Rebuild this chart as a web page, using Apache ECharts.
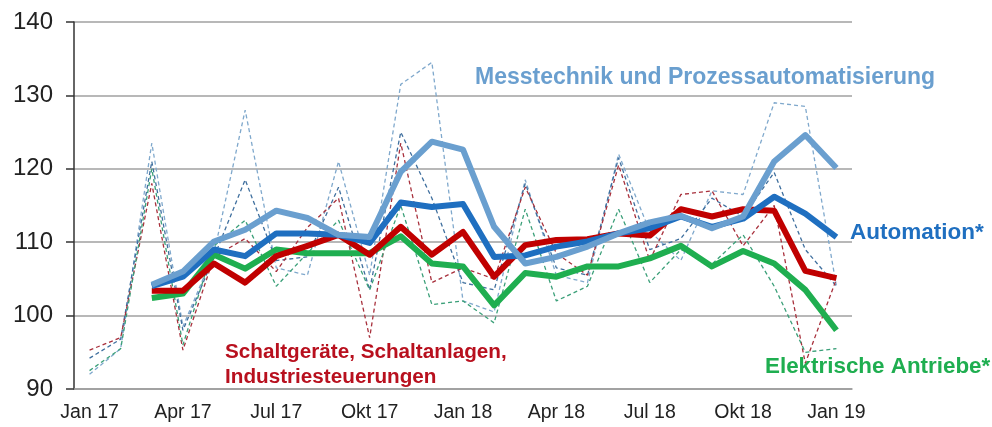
<!DOCTYPE html>
<html>
<head>
<meta charset="utf-8">
<script src="https://cdn.jsdelivr.net/npm/echarts@6/dist/echarts.min.js"></script>
<style>
  html, body { margin: 0; padding: 0; background: #fff; }
  #chart { width: 992px; height: 427px; }
</style>
</head>
<body>
<div id="chart"></div>
<script>
// Monate Jan 17 .. Jan 19
const months = ['Jan 17', 'Feb 17', 'Mär 17', 'Apr 17', 'Mai 17', 'Jun 17', 'Jul 17', 'Aug 17', 'Sep 17', 'Okt 17', 'Nov 17', 'Dez 17',
    'Jan 18', 'Feb 18', 'Mär 18', 'Apr 18', 'Mai 18', 'Jun 18', 'Jul 18', 'Aug 18', 'Sep 18', 'Okt 18', 'Nov 18', 'Dez 18', 'Jan 19'];
const shownLabels = ['Jan 17', 'Apr 17', 'Jul 17', 'Okt 17', 'Jan 18', 'Apr 18', 'Jul 18', 'Okt 18', 'Jan 19'];
const yTicks = [90, 100, 110, 120, 130, 140];

// Monatswerte (dünn, gestrichelt)
const messMonthly = [92, 95.5, 123.5, 98.5, 108.5, 128, 106.5, 105.5, 121, 105.5, 131.5, 134.5, 102, 100.5, 118.5, 105.5, 104.5, 122, 111.5, 107.5, 117, 116.5, 129, 128.5, 104];
const autoMonthly = [94.2, 96.8, 121, 98, 108, 118.5, 107.5, 108, 117.5, 103.5, 125, 116, 104.5, 103.5, 118, 106.5, 105.5, 121.5, 109, 110.5, 116, 113.5, 119.5, 109, 104];
const schaltMonthly = [95.3, 97, 118, 95.3, 108, 110.5, 106, 112, 116, 97, 123.5, 104.5, 106.5, 105, 117.5, 108.5, 105.5, 120.5, 107.5, 116.5, 117, 109.5, 115, 93.5, 105];
const antriebMonthly = [92.5, 95.5, 120, 96, 109.5, 113, 104, 108.5, 113, 103.5, 115, 101.5, 102, 99, 114.5, 102, 104, 114.5, 104.5, 109, 107, 111, 104, 95, 95.5];

// gleitende Durchschnitte (dick), ab Mär 17
const messAvg = [null, null, 104.2, 106.0, 110.1, 111.7, 114.3, 113.3, 111.0, 110.7, 119.6, 123.7, 122.6, 112.1, 107.1, 108.0, 109.4, 111.2, 112.7, 113.6, 111.9, 113.5, 121.0, 124.6, 120.1];
const autoAvg = [null, null, 104.0, 105.3, 109.0, 108.1, 111.2, 111.2, 111.0, 109.9, 115.4, 114.8, 115.2, 108.0, 108.2, 109.4, 110.1, 111.2, 111.9, 113.5, 112.1, 113.2, 116.2, 113.9, 110.7];
const schaltAvg = [null, null, 103.4, 103.4, 107.1, 104.5, 108.1, 109.5, 111.0, 108.3, 112.1, 108.3, 111.4, 105.3, 109.6, 110.3, 110.4, 111.2, 110.9, 114.5, 113.5, 114.5, 114.3, 106.1, 105.1];
const antriebAvg = [null, null, 102.4, 103.0, 108.3, 106.4, 109.0, 108.5, 108.5, 108.5, 110.8, 107.1, 106.7, 101.4, 105.8, 105.3, 106.7, 106.7, 107.8, 109.5, 106.7, 108.8, 107.1, 103.5, 98.0];

const chart = echarts.init(document.getElementById('chart'));

const dashed = (data, color) => ({
    type: 'line', data: data, symbol: 'none', z: 2,
    lineStyle: { color: color, width: 1.3, type: [4, 3] }
});
const thick = (data, color, z) => ({
    type: 'line', data: data, symbol: 'none', z: z,
    lineStyle: { color: color, width: 6, join: 'round' }
});

const fontFam = '"Liberation Sans", Arial, sans-serif';
const label = (text, x, y, size, color) => ({
    type: 'text', x: x, y: y, z: 20,
    style: { text: text, font: 'bold ' + size + 'px ' + fontFam, fill: color, verticalAlign: 'middle' }
});

chart.setOption({
    animation: false,
    grid: { left: 74, right: 140, top: 22, bottom: 38 },
    xAxis: {
        type: 'category',
        data: months,
        boundaryGap: true,
        axisLine: { lineStyle: { color: '#9a9a9a', width: 1.5 } },
        axisTick: { show: false },
        axisLabel: {
            interval: 0,
            margin: 14,
            color: '#222',
            fontSize: 19.5,
            fontFamily: fontFam,
            formatter: v => shownLabels.includes(v) ? v : ''
        }
    },
    yAxis: {
        type: 'value',
        min: yTicks[0],
        max: yTicks[yTicks.length - 1],
        interval: 10,
        axisLine: { show: true, lineStyle: { color: '#333', width: 1.5 } },
        axisTick: { show: true, length: 8, lineStyle: { color: '#333', width: 1.5 } },
        splitLine: { lineStyle: { color: '#a0a0a0', width: 1.5 } },
        axisLabel: {
            margin: 21,
            color: '#222',
            fontSize: 24,
            fontFamily: fontFam
        }
    },
    series: [
        dashed(messMonthly, '#7fa8cc'),
        dashed(autoMonthly, '#3f6f9e'),
        dashed(schaltMonthly, '#a8303c'),
        dashed(antriebMonthly, '#3a9f78'),
        thick(antriebAvg, '#1fae50', 5),
        thick(schaltAvg, '#c00000', 6),
        thick(autoAvg, '#1f6fc0', 7),
        thick(messAvg, '#6a9fcf', 8)
    ],
    graphic: [
        label('Messtechnik und Prozessautomatisierung', 475, 78, 23, '#6a9fcf'),
        label('Automation*', 850, 233, 22.5, '#1f6fc0'),
        label('Schaltgeräte, Schaltanlagen,', 225, 352, 20.7, '#b8101e'),
        label('Industriesteuerungen', 225, 377, 20.7, '#b8101e'),
        label('Elektrische Antriebe*', 765, 367, 22.4, '#1fae50')
    ]
});
</script>
</body>
</html>
